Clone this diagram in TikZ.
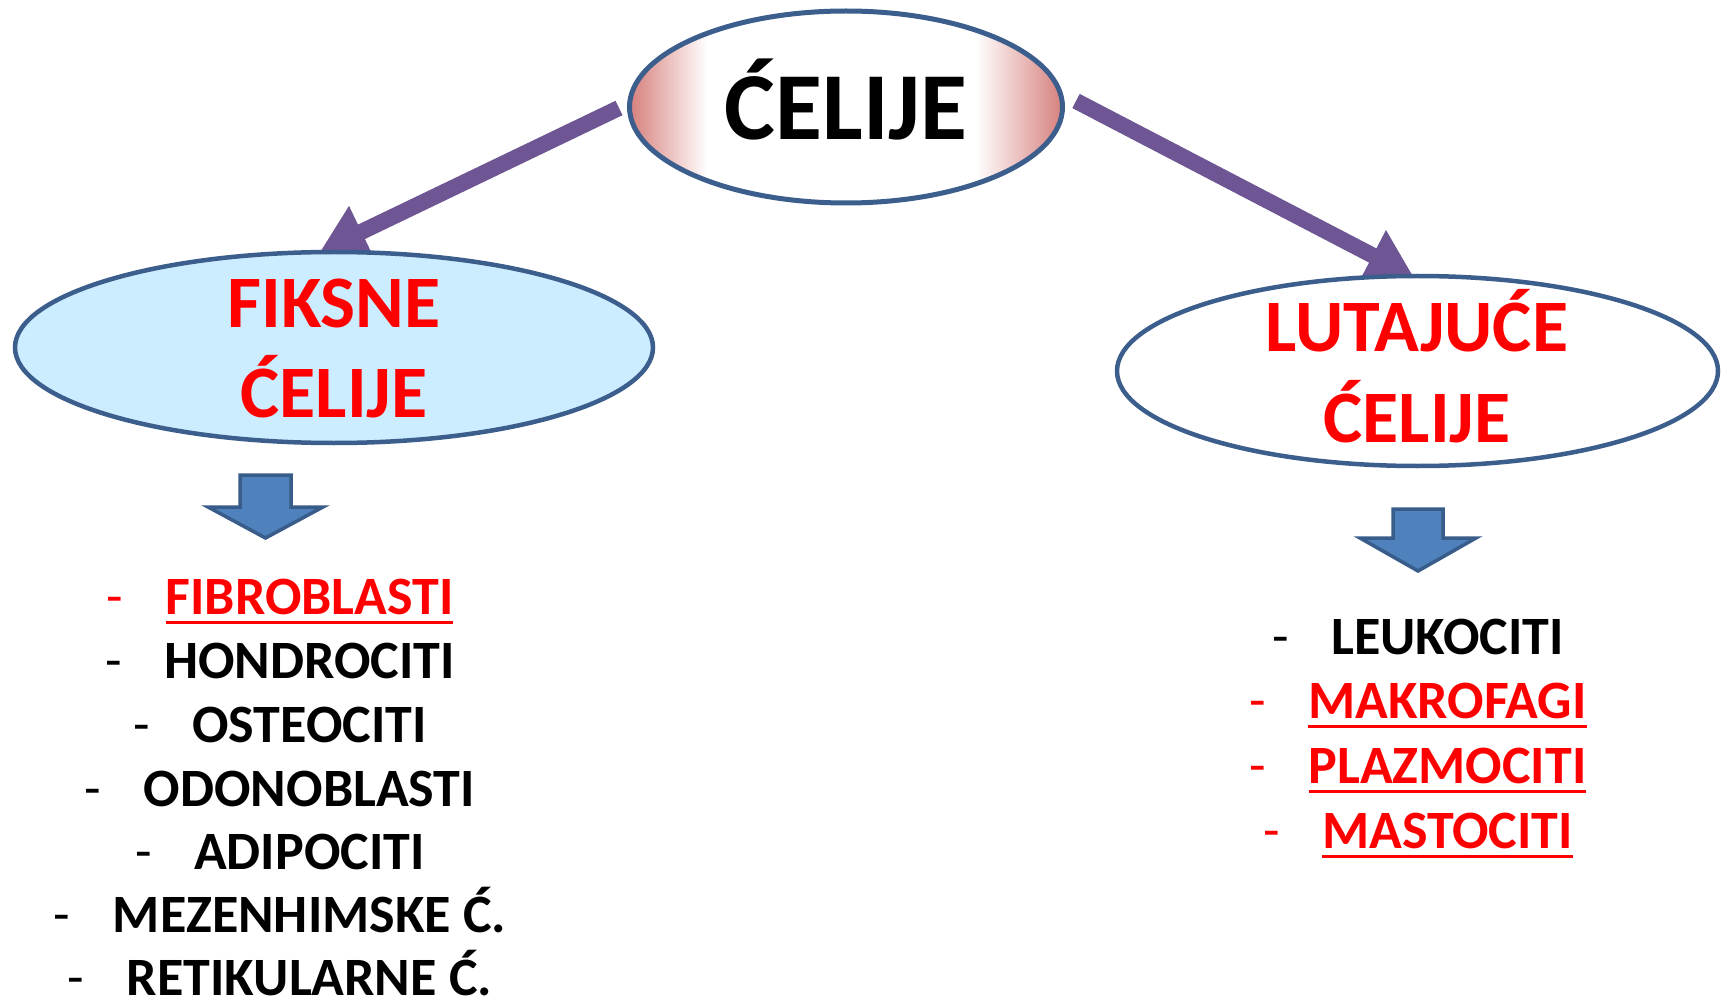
\documentclass[tikz,border=0pt]{standalone}
\usepackage{fontspec}
\setmainfont{Carlito}
\usetikzlibrary{shapes.geometric,arrows.meta}
\definecolor{edgeblue}{RGB}{59,94,140}
\definecolor{fixblue}{RGB}{204,236,255}
\definecolor{pinkedge}{RGB}{214,128,124}
\definecolor{arrowpurple}{RGB}{110,85,148}
\definecolor{blockfill}{RGB}{79,129,189}
\definecolor{blockline}{RGB}{56,93,138}
\pgfdeclarehorizontalshading{pinkwhite}{100bp}{color(0bp)=(pinkedge); color(25bp)=(pinkedge); color(34bp)=(white); color(65bp)=(white); color(75bp)=(pinkedge); color(100bp)=(pinkedge)}
\pgfdeclarelayer{bg}
\pgfsetlayers{bg,main}
\newcommand\redul[1]{\setbox0\hbox{#1}\rlap{\rule[-10pt]{\wd0}{3.5pt}}\box0}
\newcommand\itm[1]{\makebox[59pt][l]{\mdseries -}#1}
\begin{document}
\begin{tikzpicture}[x=1pt,y=-1pt,
  ell/.style={shape=ellipse, draw=edgeblue, line width=4.5pt, inner sep=0pt},
  title/.style={font=\fontsize{74}{74}\selectfont\bfseries, text=red, anchor=base, inner sep=0pt},
  item/.style={font=\fontsize{54}{54}\selectfont\bfseries, anchor=base, inner sep=0pt},
  conn/.style={draw=arrowpurple, fill=arrowpurple, line width=16pt, -{Triangle[length=46pt,width=54pt]}},
  block/.style={fill=blockfill, draw=blockline, line width=3.5pt, line join=miter}]
\useasboundingbox (0,0) rectangle (1727,1000);

% main ellipses
\node[ell, line width=5pt, minimum width=433pt, minimum height=192pt, shade, shading=pinkwhite] (top) at (846,107) {};
\node[font=\fontsize{96}{96}\selectfont\bfseries, anchor=base, inner sep=0pt] (topT) at (846,140) {ĆELIJE};

\node[ell, fill=fixblue, minimum width=638pt, minimum height=191pt] (fix) at (334,347.5) {};
\node[title] (fixT1) at (334,327) {FIKSNE};
\node[title] (fixT2) at (334,417) {ĆELIJE};

\node[ell, fill=white, minimum width=601pt, minimum height=190pt] (wan) at (1417.5,371) {};
\node[title] (wanT1) at (1417,352) {LUTAJUĆE};
\node[title] (wanT2) at (1417,442) {ĆELIJE};

% background and connectors (behind the ellipses)
\begin{pgfonlayer}{bg}
\fill[white] (0,0) rectangle (1727,1000);
\draw[conn] ([shift={(-8,1)}]top.west) -- ([shift={(-14,2)}]fix.north);
\draw[conn] ([shift={(11,-6)}]top.east) -- ([shift={(-4,3)}]wan.north);
\end{pgfonlayer}

% block arrows
\path[block] (240,475) -- (291,475) -- (291,507) -- (323,507) -- (265.5,538) -- (208,507) -- (240,507) -- cycle;
\path[block] (1393,509) -- (1443,509) -- (1443,538) -- (1476,538) -- (1418,571) -- (1360,538) -- (1393,538) -- cycle;

% left list
\node[item, text=red] (l1) at (280,614) {\itm{\redul{FIBROBLASTI}}};
\node[item] (l2) at (280,678) {\itm{HONDROCITI}};
\node[item] (l3) at (280,742) {\itm{OSTEOCITI}};
\node[item] (l4) at (280,806) {\itm{ODONOBLASTI}};
\node[item] (l5) at (280,869) {\itm{ADIPOCITI}};
\node[item] (l6) at (280,932) {\itm{MEZENHIMSKE Ć.}};
\node[item] (l7) at (280,995) {\itm{RETIKULARNE Ć.}};

% right list
\node[item] (r1) at (1418,654) {\itm{LEUKOCITI}};
\node[item, text=red] (r2) at (1418,718) {\itm{\redul{MAKROFAGI}}};
\node[item, text=red] (r3) at (1418,783) {\itm{\redul{PLAZMOCITI}}};
\node[item, text=red] (r4) at (1418,848) {\itm{\redul{MASTOCITI}}};
\end{tikzpicture}
\end{document}
